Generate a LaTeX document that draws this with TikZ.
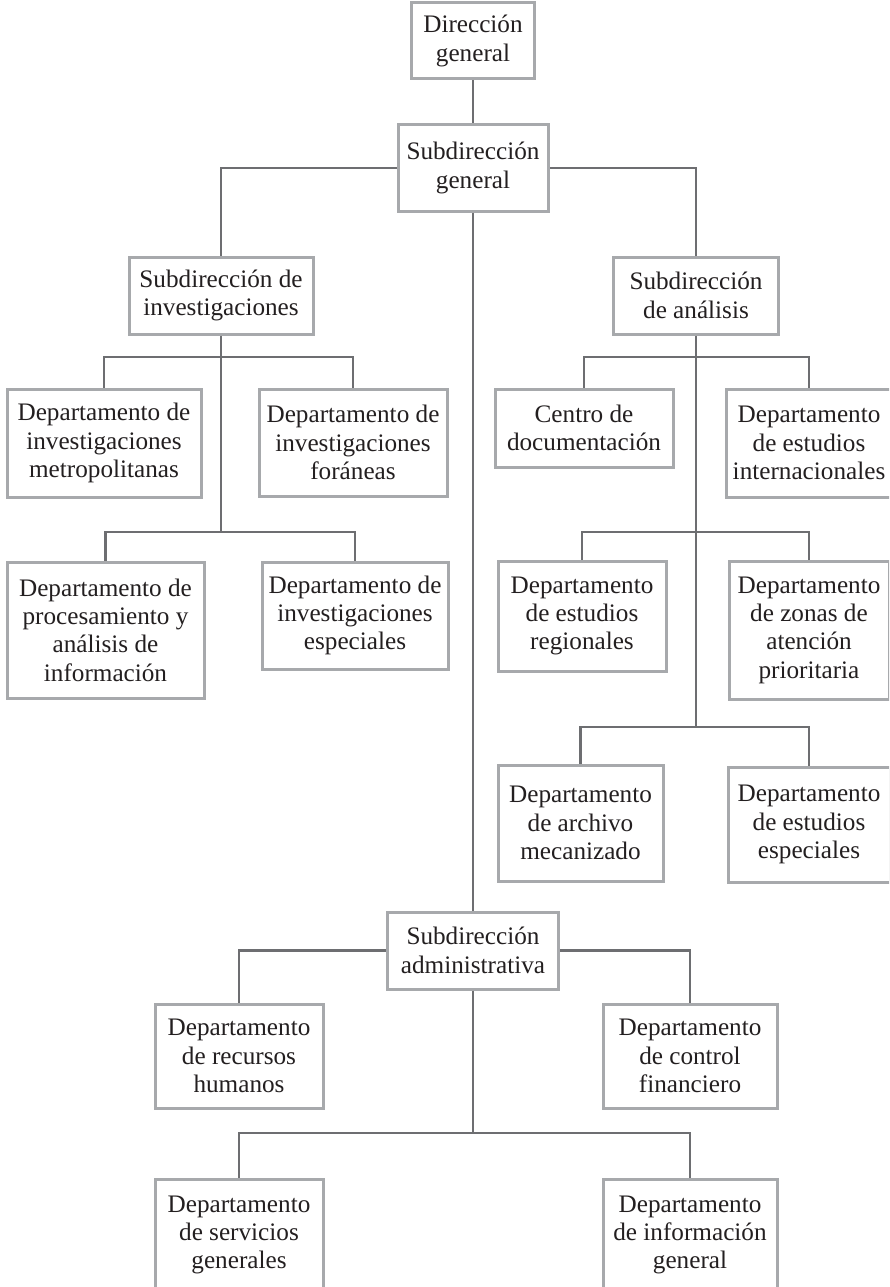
\documentclass[tikz,border=0pt]{standalone}
\usepackage{fontspec}
\setmainfont{Liberation Serif}
\definecolor{linec}{HTML}{6D6E71}
\definecolor{boxc}{HTML}{A7A9AC}
\definecolor{txtc}{HTML}{231F20}
\tikzset{
  orgbox/.style={draw=boxc, line width=3pt, fill=white, align=center, inner sep=0pt,
    text=txtc, font=\fontsize{25.2}{28.3}\selectfont},
  conn/.style={draw=linec, line width=2.6pt}
}
\begin{document}
\begin{tikzpicture}[x=1pt,y=-1pt]
\useasboundingbox (0,0) rectangle (889,1287);
\clip (0,0) rectangle (889,1287);
\fill[white] (0,0) rectangle (889,1287);
% nodes
\node[orgbox, minimum width=123, minimum height=76] (dg) at (473,41) {Dirección\\general};
\node[orgbox, minimum width=150, minimum height=86] (sg) at (473,168) {Subdirección\\general};
\node[orgbox, minimum width=184, minimum height=77] (si) at (221,295.5) {Subdirección de\\investigaciones};
\node[orgbox, minimum width=165, minimum height=77] (san) at (696,295.5) {Subdirección\\de análisis};
\node[orgbox, minimum width=194, minimum height=108] (dim) at (104,443) {Departamento de\\investigaciones\\metropolitanas};
\node[orgbox, minimum width=188, minimum height=107] (dif) at (353,442.5) {Departamento de\\investigaciones\\foráneas};
\node[orgbox, minimum width=197, minimum height=136] (dpa) at (105.5,630) {Departamento de\\procesamiento y\\análisis de\\información};
\node[orgbox, minimum width=186, minimum height=107] (die) at (355,615.5) {Departamento de\\investigaciones\\especiales};
\node[orgbox, minimum width=178, minimum height=78] (cd) at (584,428) {Centro de\\documentación};
\node[orgbox, minimum width=166, minimum height=108] (dei) at (809,443) {Departamento\\de estudios\\internacionales};
\node[orgbox, minimum width=168, minimum height=110] (der) at (582,616) {Departamento\\de estudios\\regionales};
\node[orgbox, minimum width=160, minimum height=138] (dza) at (809,630) {Departamento\\de zonas de\\atención\\prioritaria};
\node[orgbox, minimum width=165, minimum height=116] (dam) at (580.5,823) {Departamento\\de archivo\\mecanizado};
\node[orgbox, minimum width=162, minimum height=115] (dee) at (809,824.5) {Departamento\\de estudios\\especiales};
\node[orgbox, minimum width=171, minimum height=77] (sad) at (473,950.5) {Subdirección\\administrativa};
\node[orgbox, minimum width=168, minimum height=104] (drh) at (239,1056) {Departamento\\de recursos\\humanos};
\node[orgbox, minimum width=174, minimum height=104] (dcf) at (690,1056) {Departamento\\de control\\financiero};
\node[orgbox, minimum width=168, minimum height=112] (dsg) at (239,1235) {Departamento\\de servicios\\generales};
\node[orgbox, minimum width=174, minimum height=112] (dig) at (690,1235) {Departamento\\de información\\general};
% junction coordinates
\coordinate (si1) at (221,357);
\coordinate (si2) at (221,532);
\coordinate (an1) at (696,357);
\coordinate (an2) at (696,532);
\coordinate (an3) at (696,727);
\coordinate (ad2) at (473,1133);
% connectors
\draw[conn] (dg.south) -- (sg.north);
\draw[conn] (si.north) |- (sg.west);
\draw[conn] (san.north) |- (sg.east);
\draw[conn] (sg.south) -- (sad.north);
\draw[conn] (si.south) -- (si2);
\draw[conn] (dim.north) |- (si1) -| (dif.north);
\draw[conn] (dpa.north) |- (si2) -| (die.north);
\draw[conn] (san.south) -- (an3);
\draw[conn] (cd.north) |- (an1) -| (dei.north);
\draw[conn] (der.north) |- (an2) -| (dza.north);
\draw[conn] (dam.north) |- (an3) -| (dee.north);
\draw[conn] (drh.north) |- (sad.west);
\draw[conn] (dcf.north) |- (sad.east);
\draw[conn] (sad.south) -- (ad2);
\draw[conn] (dsg.north) |- (ad2) -| (dig.north);
\end{tikzpicture}
\end{document}
